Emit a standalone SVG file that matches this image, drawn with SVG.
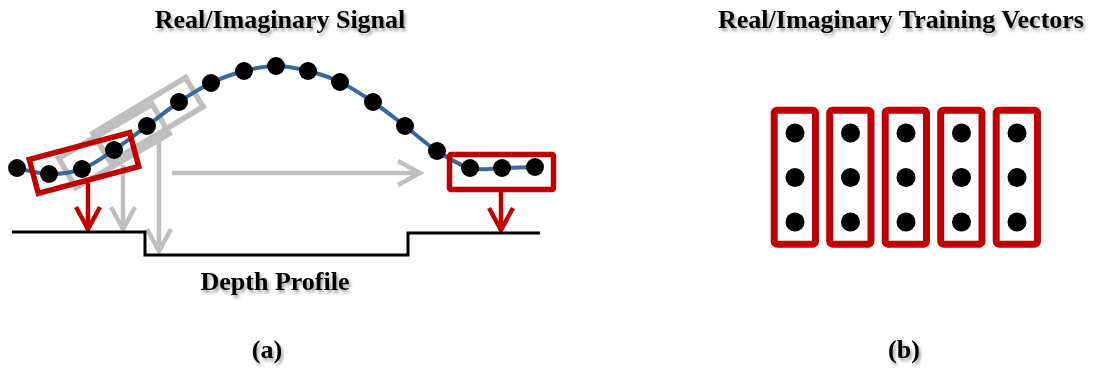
<svg xmlns="http://www.w3.org/2000/svg" width="1094" height="371" viewBox="0 0 1094 371">
<defs>
<filter id="sh" x="-10%" y="-30%" width="120%" height="180%">
<feDropShadow dx="2" dy="3" stdDeviation="1.5" flood-color="#000" flood-opacity="0.35"/>
</filter>
</defs>
<style>
.t{font-family:"Liberation Serif","Times New Roman",serif;font-weight:bold;font-size:26px;fill:#000;text-anchor:middle;filter:url(#sh)}
.gbox{fill:none;stroke:#BFBFBF;stroke-width:5.5}
.rbox{fill:none;stroke:#C00000;stroke-width:5.5}
.vbox{fill:none;stroke:#C00000;stroke-width:7}
.garr{fill:none;stroke:#BFBFBF;stroke-width:4.5}
.rarr{fill:none;stroke:#C00000;stroke-width:4.5}
.dot{fill:#000}
.prof{fill:none;stroke:#000;stroke-width:3}
.sig{fill:none;stroke:#3F6696;stroke-width:4}
</style>
<g id="titles">
<text class="t" x="280" y="28">Real/Imaginary Signal</text>
<text class="t" x="901" y="28">Real/Imaginary Training Vectors</text>
<text class="t" x="275" y="290">Depth Profile</text>
<text class="t" x="267" y="358">(a)</text>
<text class="t" x="904" y="358">(b)</text>
</g>
<g id="gray-windows">
<rect class="gbox" x="-54" y="-17" width="108" height="34" transform="translate(114,146) rotate(-30)"/>
<rect class="gbox" x="-54" y="-17" width="108" height="34" transform="translate(148,120) rotate(-31)"/>
</g>
<g id="connectors">
<line class="garr" x1="123" y1="165" x2="123" y2="229"/>
<polyline class="garr" points="111,207 123,229 135,207"/>
<line class="garr" x1="159" y1="135" x2="159" y2="251"/>
<polyline class="garr" points="147,229 159,251 171,229"/>
<line class="garr" x1="172" y1="173" x2="420" y2="173"/>
<polyline class="garr" points="398,161 420,173 398,185"/>
<line class="rarr" x1="88" y1="183" x2="88" y2="229"/>
<polyline class="rarr" points="76,207 88,229 100,207"/>
<line class="rarr" x1="501" y1="191" x2="501" y2="230"/>
<polyline class="rarr" points="489,208 501,230 513,208"/>
</g>
<g id="depth-profile">
<polyline class="prof" points="12,232 145,232 145,255 408,255 408,233 540,233"/>
</g>
<g id="signal">
<path class="sig" d="M17,168 C22.3,169 38.2,173.8 49,174 C59.8,174.2 71.2,173 82,169 C92.8,165 103.2,157.2 114,150 C124.8,142.8 136.2,134 147,126 C157.8,118 168.3,109.2 179,102 C189.7,94.8 200.2,88.2 211,83 C221.8,77.8 233.2,73.8 244,71 C254.8,68.2 265.3,66 276,66 C286.7,66 297.3,68.3 308,71 C318.7,73.7 329.2,76.8 340,82 C350.8,87.2 362.2,94.7 373,102 C383.8,109.3 394.3,117.8 405,126 C415.7,134.2 426.2,144 437,151 C447.8,158 459.2,165.2 470,168 C480.8,170.8 491.2,168.2 502,168 C512.8,167.8 529.5,167.2 535,167"/>
</g>
<g id="red-window">
<rect class="rbox" x="-52" y="-17.5" width="104" height="35" transform="translate(84,163) rotate(-15)"/>
</g>
<g id="red-window-right">
<rect class="rbox" x="449.5" y="154.5" width="104" height="35" rx="1.5"/>
</g>
<g id="signal-dots">
<circle class="dot" cx="17" cy="168" r="9"/>
<circle class="dot" cx="49" cy="174" r="9"/>
<circle class="dot" cx="82" cy="169" r="9"/>
<circle class="dot" cx="114" cy="150" r="9"/>
<circle class="dot" cx="147" cy="126" r="9"/>
<circle class="dot" cx="179" cy="102" r="9"/>
<circle class="dot" cx="211" cy="83" r="9"/>
<circle class="dot" cx="244" cy="71" r="9"/>
<circle class="dot" cx="276" cy="66" r="9"/>
<circle class="dot" cx="308" cy="71" r="9"/>
<circle class="dot" cx="340" cy="82" r="9"/>
<circle class="dot" cx="373" cy="102" r="9"/>
<circle class="dot" cx="405" cy="126" r="9"/>
<circle class="dot" cx="437" cy="151" r="9"/>
<circle class="dot" cx="470" cy="168" r="9"/>
<circle class="dot" cx="502" cy="168" r="9"/>
<circle class="dot" cx="535" cy="167" r="9"/>
</g>
<g id="vector-1">
<rect class="vbox" x="774.2" y="110.2" width="41.3" height="134" rx="3"/>
<circle class="dot" cx="795" cy="133" r="9.5"/>
<circle class="dot" cx="795" cy="177.5" r="9.5"/>
<circle class="dot" cx="795" cy="222" r="9.5"/>
</g>
<g id="vector-2">
<rect class="vbox" x="829.7" y="110.2" width="41.3" height="134" rx="3"/>
<circle class="dot" cx="850.5" cy="133" r="9.5"/>
<circle class="dot" cx="850.5" cy="177.5" r="9.5"/>
<circle class="dot" cx="850.5" cy="222" r="9.5"/>
</g>
<g id="vector-3">
<rect class="vbox" x="885.2" y="110.2" width="41.3" height="134" rx="3"/>
<circle class="dot" cx="906" cy="133" r="9.5"/>
<circle class="dot" cx="906" cy="177.5" r="9.5"/>
<circle class="dot" cx="906" cy="222" r="9.5"/>
</g>
<g id="vector-4">
<rect class="vbox" x="940.7" y="110.2" width="41.3" height="134" rx="3"/>
<circle class="dot" cx="961.5" cy="133" r="9.5"/>
<circle class="dot" cx="961.5" cy="177.5" r="9.5"/>
<circle class="dot" cx="961.5" cy="222" r="9.5"/>
</g>
<g id="vector-5">
<rect class="vbox" x="996.2" y="110.2" width="41.3" height="134" rx="3"/>
<circle class="dot" cx="1017" cy="133" r="9.5"/>
<circle class="dot" cx="1017" cy="177.5" r="9.5"/>
<circle class="dot" cx="1017" cy="222" r="9.5"/>
</g>
</svg>
